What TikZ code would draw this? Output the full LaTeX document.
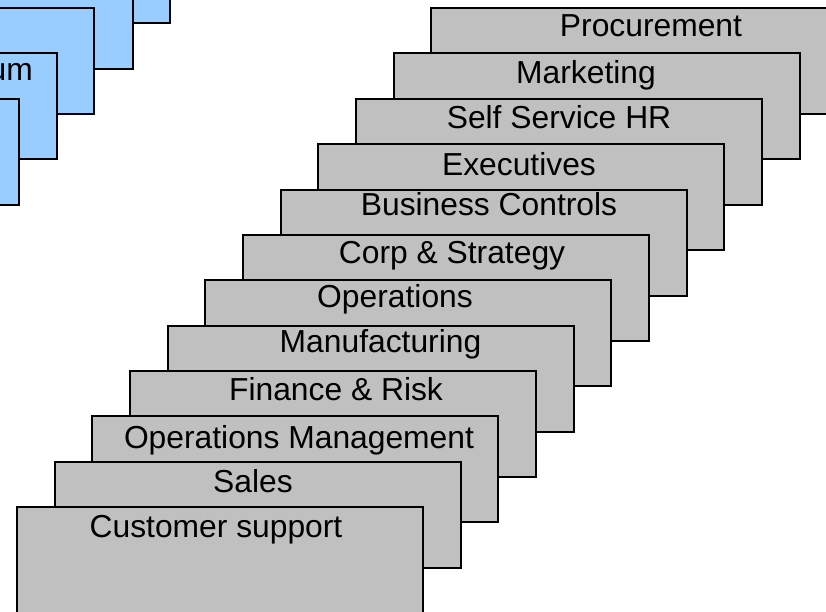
\documentclass[tikz,border=0pt]{standalone}
\usepackage{fontspec}
\setmainfont{Liberation Sans}
\definecolor{grayfill}{HTML}{C0C0C0}
\definecolor{bluefill}{HTML}{99CCFF}
\begin{document}
\begin{tikzpicture}[x=1pt,y=-1pt,
  gbox/.style={draw=black, line width=2pt, fill=grayfill, rectangle, minimum width=406pt, minimum height=106pt, anchor=north west, inner sep=0pt, outer sep=0pt},
  bbox/.style={draw=black, line width=2pt, fill=bluefill, rectangle, minimum width=406pt, minimum height=106pt, anchor=north east, inner sep=0pt, outer sep=0pt},
  lbl/.style={anchor=base, inner sep=0pt, font=\fontsize{31.8}{38}\selectfont, text=black}]
\clip (0,0) rectangle (826,611);
% blue boxes (top-left, partly out of frame)
\node[bbox] (b1) at (170,-83) {};
\node[bbox] (b2) at (133,-37) {};
\node[bbox] (b3) at (94,8) {};
\node[bbox] (b4) at (57,53) {};
\node[lbl, anchor=base east] (b4t) at (33,80) {um};
\node[bbox] (b5) at (19,99) {};
% gray stack, back to front
\node[gbox] (procurement) at (431.4,8) {};
\node[lbl] (tprocurement) at (651,36) {Procurement};
\node[gbox] (marketing) at (393.7,53.4) {};
\node[lbl] (tmarketing) at (586,83) {Marketing};
\node[gbox] (sshr) at (356,98.8) {};
\node[lbl] (tsshr) at (559,128) {Self Service HR};
\node[gbox] (executives) at (318.4,144.1) {};
\node[lbl] (texecutives) at (519,175) {Executives};
\node[gbox] (bcontrols) at (280.7,189.5) {};
\node[lbl] (tbcontrols) at (489,215) {Business Controls};
\node[gbox] (corp) at (243,234.9) {};
\node[lbl] (tcorp) at (452,263) {Corp \& Strategy};
\node[gbox] (operations) at (205.4,280.2) {};
\node[lbl] (toperations) at (395,307) {Operations};
\node[gbox] (manufacturing) at (167.7,325.6) {};
\node[lbl] (tmanufacturing) at (380.5,352) {Manufacturing};
\node[gbox] (finance) at (130,371) {};
\node[lbl] (tfinance) at (336,400) {Finance \& Risk};
\node[gbox] (opsmgmt) at (92.3,416.3) {};
\node[lbl] (topsmgmt) at (299,448) {Operations Management};
\node[gbox] (sales) at (54.7,461.7) {};
\node[lbl] (tsales) at (253,492) {Sales};
\node[gbox] (custsupport) at (17,507) {};
\node[lbl] (tcustsupport) at (216,537) {Customer support};
\end{tikzpicture}
\end{document}
